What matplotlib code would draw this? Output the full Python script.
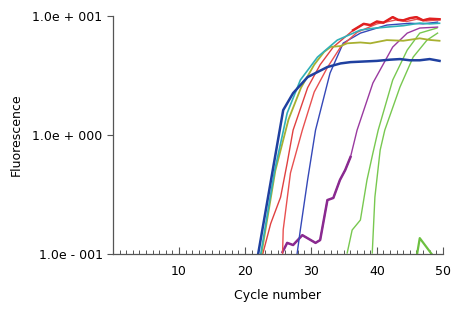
import matplotlib
matplotlib.use("Agg")
import matplotlib.pyplot as plt
from matplotlib.ticker import MultipleLocator, FixedLocator

################################################################################
# amplification curves (cycle, fluorescence)

thickBlueCyc = [22.0, 24.3, 25.8, 27.3, 29.5, 32.5, 34.5, 36.0, 38.0, 40.0, 42.0, 43.5, 45.0, 46.5, 48.0, 49.5]
thickBlueVal = [0.10, 0.54, 1.62, 2.25, 3.07, 3.73, 4.00, 4.10, 4.15, 4.20, 4.30, 4.35, 4.25, 4.25, 4.35, 4.20]

tealCyc = [22.4, 24.5, 26.4, 28.4, 31.0, 34.0, 37.5, 39.5, 41.5, 44.0, 46.5, 48.0, 49.5]
tealVal = [0.10, 0.50, 1.53, 2.90, 4.52, 6.28, 7.63, 7.90, 8.08, 8.30, 8.73, 8.60, 8.70]

oliveCyc = [22.5, 24.6, 26.6, 28.5, 30.5, 32.0, 33.0, 34.5, 35.5, 37.5, 39.0, 41.5, 44.0, 46.5, 48.0, 49.5]
oliveVal = [0.10, 0.50, 1.35, 2.50, 3.90, 5.00, 5.50, 5.60, 5.90, 6.00, 5.90, 6.28, 6.20, 6.50, 6.30, 6.20]

red1Cyc = [22.7, 23.9, 25.4, 26.4, 27.3, 29.5, 31.4, 33.4, 36.4, 38.0, 39.0, 40.0, 41.0, 42.4, 43.2, 44.0, 45.0, 46.0, 47.0, 48.0, 49.5]
red1Val = [0.10, 0.18, 0.30, 0.58, 1.10, 2.50, 3.90, 5.50, 7.60, 8.60, 8.40, 9.00, 8.80, 9.80, 9.30, 9.20, 9.60, 9.80, 9.20, 9.50, 9.40]

red2Cyc = [25.7, 25.8, 26.9, 28.7, 30.5, 32.5, 34.5, 37.0, 40.0, 43.0, 44.5, 46.0, 47.5, 49.5]
red2Val = [0.10, 0.16, 0.48, 1.10, 2.30, 3.70, 5.50, 7.30, 8.60, 9.30, 9.00, 9.40, 9.10, 9.30]

thinBlueCyc = [27.9, 28.4, 29.5, 30.7, 32.9, 34.9, 37.5, 41.5, 45.0, 47.0, 49.2]
thinBlueVal = [0.10, 0.16, 0.42, 1.10, 3.32, 5.93, 7.19, 8.40, 8.70, 8.60, 8.90]

purpleCyc = [25.7, 26.4, 27.3, 28.7, 30.7, 31.4, 32.5, 33.4, 34.4, 35.2, 36.0, 37.0, 39.4, 42.4, 44.6, 46.5, 49.2]
purpleVal = [0.104, 0.124, 0.119, 0.144, 0.124, 0.131, 0.284, 0.296, 0.419, 0.508, 0.653, 1.10, 2.74, 5.49, 7.19, 7.93, 8.08]

green1Cyc = [35.5, 36.25, 37.5, 38.5, 39.4, 40.2, 42.4, 44.6, 46.5, 49.1]
green1Val = [0.102, 0.159, 0.193, 0.419, 0.706, 1.10, 2.90, 5.18, 7.19, 7.93]

green2Cyc = [39.3, 39.7, 40.5, 41.2, 43.5, 45.5, 47.6, 49.2]
green2Val = [0.102, 0.301, 0.748, 1.10, 2.53, 4.52, 6.28, 7.19]

green3Cyc = [46.1, 46.5, 48.3]
green3Val = [0.100, 0.136, 0.100]

################################################################################

fig = plt.figure(figsize=(4.6, 3.09), dpi=100)
ax = fig.add_axes([0.2457, 0.178, 0.717, 0.770])

ax.plot(green3Cyc, green3Val, color='#6cc040', lw=1.6)
ax.plot(green2Cyc, green2Val, color='#78c850', lw=1.0)
ax.plot(green1Cyc, green1Val, color='#78c850', lw=1.0)
ax.plot(purpleCyc, purpleVal, color='#9a3aa0', lw=1.0)
ax.plot(purpleCyc[:11], purpleVal[:11], color='#8a2a90', lw=1.8)
ax.plot(thinBlueCyc, thinBlueVal, color='#3548b8', lw=1.0)
ax.plot(red2Cyc, red2Val, color='#e85050', lw=1.0)
ax.plot(red1Cyc, red1Val, color='#e04040', lw=1.0)
ax.plot(red1Cyc[8:], red1Val[8:], color='#e02020', lw=1.8)
ax.plot(oliveCyc, oliveVal, color='#a8b030', lw=1.3)
ax.plot(tealCyc, tealVal, color='#30b0b8', lw=1.2)
ax.plot(thickBlueCyc, thickBlueVal, color='#1f40a0', lw=1.8)

ax.set_yscale('log')
ax.set_xlim(0, 50)
ax.set_ylim(0.1, 10)

ax.yaxis.set_major_locator(FixedLocator([0.1, 1, 10]))
ax.yaxis.set_minor_locator(FixedLocator([]))
ax.set_yticklabels(['1.0e - 001', '1.0e + 000', '1.0e + 001'])
ax.xaxis.set_major_locator(FixedLocator([10, 20, 30, 40, 50]))
ax.xaxis.set_minor_locator(MultipleLocator(1))

ax.tick_params(axis='x', which='major', direction='in', length=5, width=0.8, colors='#555555',
               labelcolor='black', labelsize=9, pad=8)
ax.tick_params(axis='x', which='minor', direction='in', length=3, width=0.7, colors='#555555')
ax.tick_params(axis='y', which='major', direction='out', length=4, width=0.8, colors='#555555',
               labelcolor='black', labelsize=9)

for side in ['top', 'right']:
   ax.spines[side].set_visible(False)
for side in ['left', 'bottom']:
   ax.spines[side].set_color('#555555')
   ax.spines[side].set_linewidth(0.9)

ax.set_xlabel('Cycle number', fontsize=9, labelpad=8)
ax.set_ylabel('Fluorescence', fontsize=9, labelpad=7)

fig.savefig('out.png', dpi=100)
